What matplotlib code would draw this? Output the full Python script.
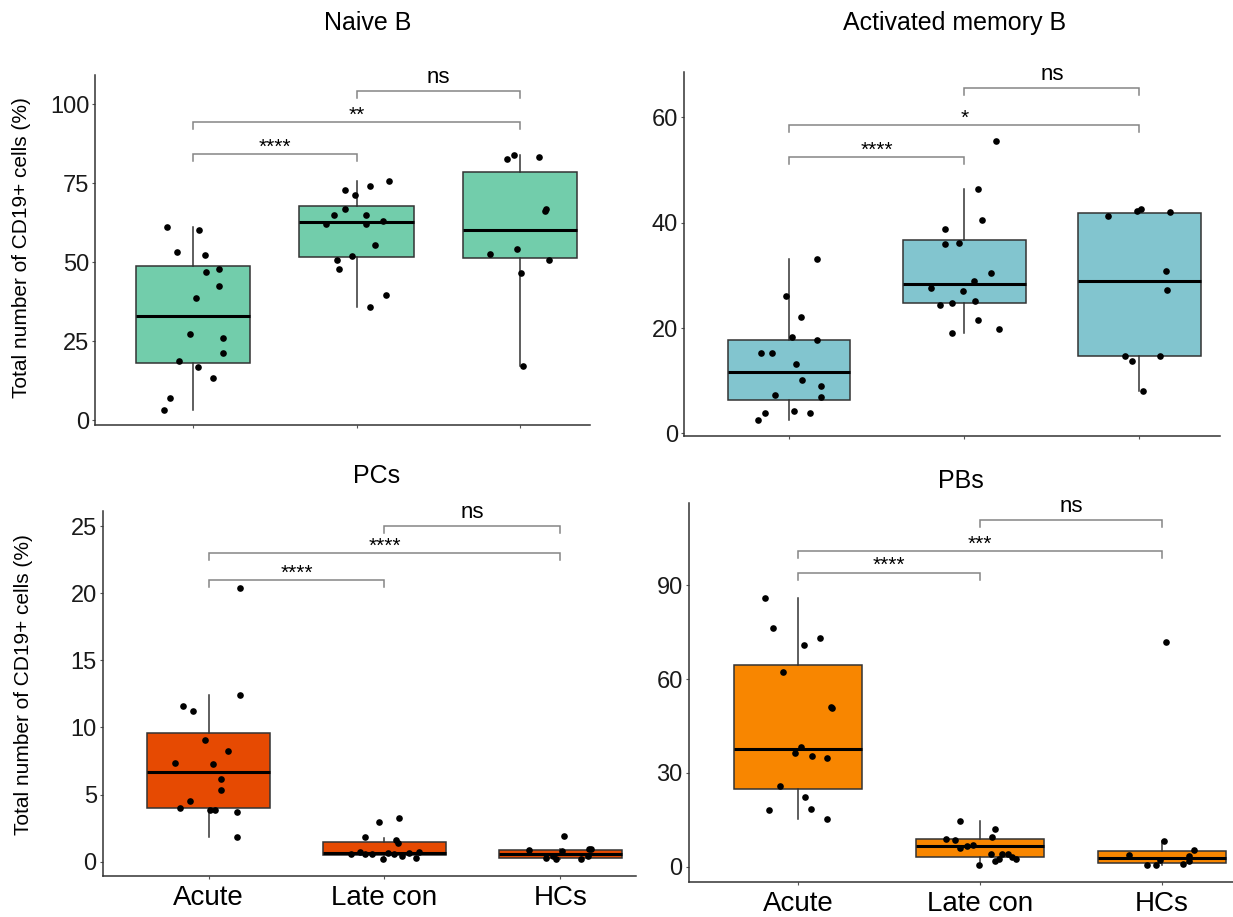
import matplotlib
matplotlib.use("Agg")
import matplotlib.pyplot as plt

plt.rcParams["font.family"] = ["Liberation Sans", "DejaVu Sans"]

W, H = 1233, 917
GROUPS = ["Acute", "Late con", "HCs"]

# ---- Naive B ----
naive_acute = [61.2, 60.0, 53.1, 52.1, 47.0, 47.9, 42.5, 38.7, 27.3, 25.8, 21.3, 18.6, 16.9, 13.4, 7.0, 3.3]
naive_acute_x = [-0.16, 0.035, -0.10, 0.07, 0.075, 0.16, 0.16, 0.016, -0.02, 0.18, 0.18, -0.09, 0.03, 0.12, -0.14, -0.18]
naive_late = [75.6, 74.2, 72.9, 71.1, 66.8, 65.0, 65.0, 63.0, 61.9, 62.1, 55.3, 52.0, 50.8, 47.7, 39.6, 35.8]
naive_late_x = [0.20, 0.08, -0.07, -0.01, -0.07, -0.14, 0.06, 0.16, -0.19, 0.06, 0.11, -0.03, -0.12, -0.11, 0.18, 0.08]
naive_hcs = [82.6, 83.9, 83.4, 66.7, 66.2, 52.6, 54.2, 50.7, 46.6, 17.1]
naive_hcs_x = [-0.08, -0.035, 0.12, 0.16, 0.155, -0.18, -0.02, 0.18, 0.01, 0.02]
naive_q1 = [18.1, 51.7, 51.2]
naive_med = [33.0, 62.6, 60.2]
naive_q3 = [48.9, 67.8, 78.5]
naive_lo = [3.3, 35.8, 17.1]
naive_hi = [61.2, 75.6, 83.9]
naive_brackets = [(1, 2, 84.1, "****"), (1, 3, 94.2, "**"), (2, 3, 104.2, "ns")]

# ---- Activated memory B ----
act_acute = [33.1, 26.1, 22.0, 18.2, 17.8, 15.3, 15.2, 13.2, 10.1, 8.9, 7.2, 6.9, 4.3, 3.9, 3.9, 2.6]
act_acute_x = [0.16, -0.02, 0.07, 0.016, 0.16, -0.16, -0.10, 0.04, 0.076, 0.18, -0.08, 0.18, 0.03, -0.14, 0.12, -0.18]
act_late = [55.5, 46.5, 40.5, 38.9, 35.9, 36.2, 30.4, 28.9, 27.6, 27.0, 25.2, 24.4, 24.7, 21.5, 19.9, 19.1]
act_late_x = [0.18, 0.08, 0.10, -0.11, -0.11, -0.03, 0.155, 0.056, -0.19, -0.01, 0.063, -0.14, -0.07, 0.076, 0.20, -0.07]
act_hcs = [41.3, 42.3, 42.6, 42.0, 30.8, 27.2, 14.7, 14.7, 13.8, 8.1]
act_hcs_x = [-0.18, -0.016, 0.01, 0.175, 0.15, 0.157, -0.083, 0.117, -0.04, 0.018]
act_q1 = [6.3, 24.7, 14.7]
act_med = [11.6, 28.3, 29.0]
act_q3 = [17.8, 36.8, 41.8]
act_lo = [2.6, 19.1, 8.1]
act_hi = [33.1, 46.5, 42.6]
act_brackets = [(1, 2, 52.5, "****"), (1, 3, 58.6, "*"), (2, 3, 65.6, "ns")]

# ---- PCs ----
pcs_acute = [20.35, 12.43, 11.61, 11.24, 9.08, 8.24, 7.39, 7.25, 6.13, 5.38, 4.49, 4.02, 3.82, 3.82, 3.72, 1.86]
pcs_acute_x = [0.18, 0.18, -0.145, -0.09, -0.02, 0.11, -0.19, 0.024, 0.07, 0.07, -0.105, -0.16, 0.01, 0.035, 0.16, 0.16]
pcs_late = [3.25, 2.93, 1.84, 1.61, 1.36, 0.74, 0.55, 0.55, 0.55, 0.55, 0.67, 0.69, 0.42, 0.22, 0.27, 0.62]
pcs_late_x = [0.085, -0.03, -0.11, 0.064, 0.077, -0.14, -0.19, -0.11, -0.07, 0.055, 0.14, 0.195, 0.10, -0.01, 0.18, 0.02]
pcs_hcs = [1.94, 0.89, 0.94, 0.94, 0.79, 0.30, 0.17, 0.22, 0.40, 0.42]
pcs_hcs_x = [0.02, -0.18, 0.165, 0.175, 0.01, -0.083, -0.024, 0.12, 0.155, -0.044]
pcs_q1 = [4.0, 0.50, 0.30]
pcs_med = [6.67, 0.65, 0.60]
pcs_q3 = [9.60, 1.46, 0.89]
pcs_lo = [1.86, 0.22, 0.17]
pcs_hi = [12.43, 1.79, 0.94]
pcs_brackets = [(1, 2, 21.0, "****"), (1, 3, 23.0, "****"), (2, 3, 25.0, "ns")]

# ---- PBs ----
pbs_acute = [86.0, 76.5, 73.3, 70.9, 62.4, 51.1, 50.7, 38.4, 36.4, 35.5, 34.8, 25.8, 22.4, 18.0, 18.4, 15.4]
pbs_acute_x = [-0.18, -0.14, 0.12, 0.03, -0.084, 0.18, 0.186, 0.017, -0.017, 0.076, 0.16, -0.10, 0.037, -0.158, 0.07, 0.16]
pbs_late = [14.6, 12.2, 9.5, 9.0, 8.6, 6.7, 6.9, 6.1, 4.2, 4.2, 3.2, 2.5, 2.5, 1.8, 0.5, 3.9]
pbs_late_x = [-0.11, 0.084, 0.063, -0.19, -0.14, -0.07, -0.037, -0.11, 0.058, 0.155, 0.177, 0.2, 0.106, 0.08, -0.006, 0.12]
pbs_hcs = [72.0, 8.3, 3.8, 5.2, 3.5, 1.9, 2.2, 0.5, 0.5, 0.85]
pbs_hcs_x = [0.02, 0.013, -0.18, 0.177, 0.15, 0.15, -0.013, -0.08, -0.035, 0.117]
pbs_q1 = [24.9, 3.1, 1.1]
pbs_med = [37.6, 6.5, 2.9]
pbs_q3 = [64.7, 8.9, 5.0]
pbs_lo = [15.4, 0.5, 0.5]
pbs_hi = [86.0, 14.6, 8.3]
pbs_brackets = [(1, 2, 94.1, "****"), (1, 3, 101.1, "***"), (2, 3, 111.0, "ns")]

YLABEL = "Total number of CD19+ cells (%)"

panels = [
    dict(title="Naive B", color="#72CDAB",
         pts=[naive_acute, naive_late, naive_hcs], jit=[naive_acute_x, naive_late_x, naive_hcs_x],
         stats=(naive_q1, naive_med, naive_q3, naive_lo, naive_hi), brackets=naive_brackets,
         rect=(95.4, 75, 590, 425), xlim=(0.4, 3.43), ylim=(-1.58, 109.2),
         yticks=[0, 25, 50, 75, 100], title_xy=(368, 23), ylab_xy=(22, 248), xlabels=False),
    dict(title="Activated memory B", color="#82C5CF",
         pts=[act_acute, act_late, act_hcs], jit=[act_acute_x, act_late_x, act_hcs_x],
         stats=(act_q1, act_med, act_q3, act_lo, act_hi), brackets=act_brackets,
         rect=(684, 71.7, 1220, 435.7), xlim=(0.4, 3.46), ylim=(-0.46, 68.7),
         yticks=[0, 20, 40, 60], title_xy=(955, 23), ylab_xy=None, xlabels=False),
    dict(title="PCs", color="#E64A02",
         pts=[pcs_acute, pcs_late, pcs_hcs], jit=[pcs_acute_x, pcs_late_x, pcs_hcs_x],
         stats=(pcs_q1, pcs_med, pcs_q3, pcs_lo, pcs_hi), brackets=pcs_brackets,
         rect=(103, 510.7, 636, 876), xlim=(0.4, 3.43), ylim=(-1.06, 26.14),
         yticks=[0, 5, 10, 15, 20, 25], title_xy=(377, 476), ylab_xy=(24, 685), xlabels=True),
    dict(title="PBs", color="#F88600",
         pts=[pbs_acute, pbs_late, pbs_hcs], jit=[pbs_acute_x, pbs_late_x, pbs_hcs_x],
         stats=(pbs_q1, pbs_med, pbs_q3, pbs_lo, pbs_hi), brackets=pbs_brackets,
         rect=(689, 503.3, 1233, 882.3), xlim=(0.4, 3.39), ylim=(-5.0, 116.3),
         yticks=[0, 30, 60, 90], title_xy=(961, 481), ylab_xy=None, xlabels=True),
]

fig = plt.figure(figsize=(W / 100, H / 100), dpi=100)


def px_rect(l, t, r, b):
    return [l / W, 1 - b / H, (r - l) / W, (b - t) / H]


for p in panels:
    ax = fig.add_axes(px_rect(*p["rect"]))
    q1, med, q3, lo, hi = p["stats"]
    bstats = [dict(q1=q1[i], med=med[i], q3=q3[i], whislo=lo[i], whishi=hi[i], fliers=[])
              for i in range(3)]
    ax.bxp(bstats, positions=[1, 2, 3], widths=0.7, showcaps=False, showfliers=False,
           patch_artist=True,
           boxprops=dict(facecolor=p["color"], edgecolor="#333333", linewidth=1.1),
           medianprops=dict(color="black", linewidth=2.2),
           whiskerprops=dict(color="#333333", linewidth=1.1))
    for i, (vals, jit) in enumerate(zip(p["pts"], p["jit"])):
        xs = [i + 1 + j for j in jit]
        ax.scatter(xs, vals, s=23, color="black", zorder=5, linewidths=0)

    # significance brackets
    y0, y1 = p["ylim"]
    drop = (y1 - y0) * 0.02
    for a, b, y, lab in p["brackets"]:
        ax.plot([a, a, b, b], [y - drop, y, y, y - drop], color="#858585", lw=1.1,
                clip_on=False, solid_joinstyle="miter")
        if lab == "ns":
            ax.annotate(lab, ((a + b) / 2, y), xytext=(0, 5.5), textcoords="offset points",
                        ha="center", va="baseline", fontsize=16, annotation_clip=False)
        else:
            ax.annotate(lab, ((a + b) / 2, y), xytext=(0, 1), textcoords="offset points",
                        ha="center", va="baseline", fontsize=15, annotation_clip=False)

    ax.set_xlim(*p["xlim"])
    ax.set_ylim(*p["ylim"])
    ax.set_yticks(p["yticks"])
    ax.set_xticks([1, 2, 3])
    ax.set_xticklabels(GROUPS if p["xlabels"] else [""] * 3)
    for side in ("top", "right"):
        ax.spines[side].set_visible(False)
    for side in ("left", "bottom"):
        ax.spines[side].set_color("#333333")
        ax.spines[side].set_linewidth(1.1)
    ax.tick_params(axis="y", length=2.5, width=0.8, color="#555555", pad=2,
                   labelsize=17, labelcolor="#1a1a1a")
    ax.tick_params(axis="x", length=2.5, width=0.8, color="#555555", pad=4,
                   labelsize=20, labelcolor="black")

    fig.text(p["title_xy"][0] / W, 1 - p["title_xy"][1] / H, p["title"],
             ha="center", va="center", fontsize=18)
    if p["ylab_xy"] is not None:
        fig.text(p["ylab_xy"][0] / W, 1 - p["ylab_xy"][1] / H, YLABEL,
                 ha="center", va="center", rotation=90, fontsize=15)

fig.savefig("out.png", dpi=100)
